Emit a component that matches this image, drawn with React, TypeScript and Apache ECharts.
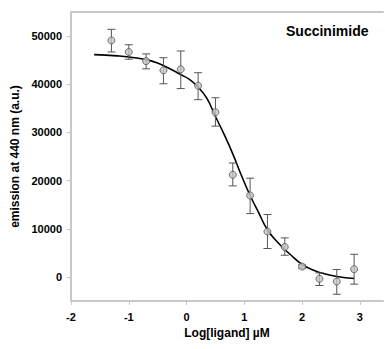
import React, { useEffect, useRef } from "react";
import * as echarts from "echarts";

const pointX = [-1.3, -1.0, -0.7, -0.4, -0.1, 0.2, 0.5, 0.8, 1.1, 1.4, 1.7, 2.0, 2.3, 2.6, 2.9];
const pointY = [49100, 46700, 44800, 42900, 43100, 39700, 34200, 21200, 16900, 9400, 6200, 2150, -400, -950, 1600];
const errLow = [46700, 45200, 43200, 40100, 39100, 36800, 31300, 18900, 13150, 5900, 4500, 1800, -1780, -3600, -1500];
const errHigh = [51400, 48200, 46300, 45500, 46900, 42400, 37200, 23650, 20500, 12950, 8100, 2500, 830, 1530, 4700];

const curveX = [-1.6, -1.2, -0.9, -0.6, -0.35, -0.1, 0.05, 0.2, 0.35, 0.5, 0.65, 0.8, 0.95, 1.1, 1.25, 1.4, 1.6, 1.8, 2.0, 2.2, 2.4, 2.6, 2.9];
const curveY = [46150, 45900, 45500, 44800, 43600, 42000, 41000, 39400, 37100, 33300, 29600, 25550, 21050, 16900, 13300, 9800, 6900, 4600, 2600, 1400, 600, 100, -330];

const xTicks = [-2, -1, 0, 1, 2, 3];
const yTicks = [0, 10000, 20000, 30000, 40000, 50000];

const title = "Succinimide";
const xName = "Log[ligand] µM";
const yName = "emission at 440 nm (a.u.)";

export default function App() {
  const ref = useRef<HTMLDivElement>(null);
  useEffect(() => {
    if (!ref.current) return;
    const chart = echarts.init(ref.current, undefined, { renderer: "svg" });
    const font = "Liberation Sans, Arial, sans-serif";
    const axisColor = "#c8c8c8";
    chart.setOption({
      animation: false,
      textStyle: { fontFamily: font },
      title: {
        text: title,
        left: 286,
        top: 24,
        padding: 0,
        textStyle: { fontSize: 14, fontWeight: "bold", color: "#000", fontFamily: font },
      },
      grid: { left: 71, top: 12, right: 2, bottom: 48 },
      xAxis: [
        {
          type: "value",
          min: -2,
          max: 3.4,
          name: xName,
          nameLocation: "middle",
          nameGap: 25,
          nameTextStyle: { fontSize: 12, fontWeight: "bold", color: "#000", fontFamily: font },
          axisLine: { show: true, onZero: false, lineStyle: { color: axisColor, width: 2 } },
          axisTick: { show: true, length: 4, lineStyle: { color: axisColor, width: 1 }, customValues: xTicks },
          axisLabel: { fontSize: 11, fontWeight: "bold", color: "#000", margin: 10, customValues: xTicks, fontFamily: font, formatter: (v: number) => String(v) },
          splitLine: { show: false },
        },
        {
          type: "value",
          position: "top",
          min: -2,
          max: 3.4,
          axisLine: { show: true, onZero: false, lineStyle: { color: axisColor, width: 2 } },
          axisTick: { show: false },
          axisLabel: { show: false },
          splitLine: { show: false },
        },
      ],
      yAxis: {
        type: "value",
        min: -5000,
        max: 55000,
        name: yName,
        nameLocation: "middle",
        nameGap: 48,
        nameTextStyle: { fontSize: 12, fontWeight: "bold", color: "#000", fontFamily: font },
        axisLine: { show: true, onZero: false, lineStyle: { color: axisColor, width: 2 } },
        axisTick: { show: true, length: 4, lineStyle: { color: axisColor, width: 1 }, customValues: yTicks },
        axisLabel: { fontSize: 11, fontWeight: "bold", color: "#000", margin: 9, customValues: yTicks, fontFamily: font, formatter: (v: number) => String(v) },
        splitLine: { show: false },
      },
      series: [
        {
          type: "line",
          data: curveX.map((x, i) => [x, curveY[i]]),
          smooth: 0.5,
          showSymbol: false,
          symbol: "none",
          lineStyle: { color: "#000", width: 1.6 },
          z: 2,
        },
        {
          type: "custom",
          data: pointX.map((x, i) => [x, errLow[i], errHigh[i]]),
          renderItem: (params: any, api: any) => {
            const x = api.value(0);
            const lo = api.coord([x, api.value(1)]);
            const hi = api.coord([x, api.value(2)]);
            const hw = 4;
            const style = { stroke: "#555", lineWidth: 1 };
            return {
              type: "group",
              children: [
                { type: "line", shape: { x1: lo[0], y1: lo[1], x2: hi[0], y2: hi[1] }, style },
                { type: "line", shape: { x1: lo[0] - hw, y1: lo[1], x2: lo[0] + hw, y2: lo[1] }, style },
                { type: "line", shape: { x1: hi[0] - hw, y1: hi[1], x2: hi[0] + hw, y2: hi[1] }, style },
              ],
            };
          },
          z: 3,
        },
        {
          type: "scatter",
          data: pointX.map((x, i) => [x, pointY[i]]),
          symbol: "circle",
          symbolSize: 7,
          itemStyle: { color: "#c4c4c4", borderColor: "#555", borderWidth: 1 },
          z: 4,
        },
      ],
    });
    return () => chart.dispose();
  }, []);
  return <div ref={ref} style={{ position: "absolute", left: 0, top: 0, width: 385, height: 349 }} />;
}
